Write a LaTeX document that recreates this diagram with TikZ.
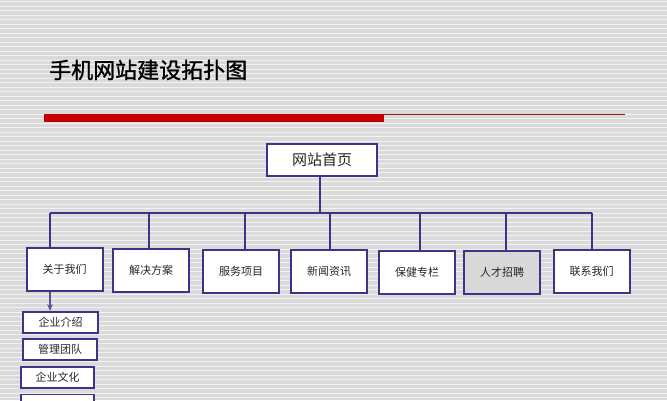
\documentclass[tikz,border=0pt]{standalone}
\usepackage{fontspec}
\usetikzlibrary{arrows.meta}
\newfontfamily\cjk{Noto Sans CJK SC}
\newfontfamily\cjkt[FakeBold=1.2]{Noto Sans CJK SC}
\definecolor{bgg}{HTML}{DADADA}
\definecolor{bgl}{HTML}{F2F2F2}
\definecolor{navy}{HTML}{3B3488}
\definecolor{arrowc}{HTML}{5E4F98}
\definecolor{barred}{HTML}{C40000}
\definecolor{thinred}{HTML}{A31515}
\definecolor{boxgray}{HTML}{D8D8D8}
\begin{document}
\begin{tikzpicture}[x=1pt,y=-1pt,
  mainbox/.style={draw=navy,line width=2pt,fill=white,minimum width=76pt,minimum height=43pt,inner sep=0pt,font=\cjk\fontsize{11}{13}\selectfont,text=black!85},
  subbox/.style={draw=navy,line width=1.8pt,fill=white,minimum width=74pt,minimum height=21pt,inner sep=0pt,font=\cjk\fontsize{11}{13}\selectfont,text=black!85},
  conn/.style={draw=navy,line width=1.8pt},
  arr/.style={draw=arrowc,line width=1.2pt,-{Stealth[length=7pt,width=5.5pt]}}]
\useasboundingbox (0,0) rectangle (667,400);
\clip (0,0) rectangle (667,400);
% background
\fill[bgg] (0,0) rectangle (667,400);
\foreach \i in {0,...,89} {
  \fill[bgl] (0,{\i*4.5+1}) rectangle (667,{\i*4.5+2.2});
}
% title
\node[anchor=west,inner sep=0pt,font=\cjkt\fontsize{22}{24}\selectfont] (title) at (49,70) {手机网站建设拓扑图};
% red bar
\fill[barred] (44,114) rectangle (384,122);
\draw[thinred,line width=1.2pt] (384,114.6) -- (625,114.6);
% top box
\node[mainbox,minimum width=110pt,minimum height=32pt,font=\cjk\fontsize{15}{17}\selectfont] (home) at (322,160) {网站首页};
% row boxes
\node[mainbox] (n1) at (64.5,269) {关于我们};
\node[mainbox] (n2) at (151,270.5) {解决方案};
\node[mainbox] (n3) at (241,271.5) {服务项目};
\node[mainbox] (n4) at (329,271.5) {新闻资讯};
\node[mainbox] (n5) at (417,272) {保健专栏};
\node[mainbox,fill=boxgray] (n6) at (502,272.5) {人才招聘};
\node[mainbox] (n7) at (591.5,271) {联系我们};
% bus
\coordinate (b1) at (50,213);
\coordinate (b2) at (149,213);
\coordinate (b3) at (245,213);
\coordinate (b4) at (330,213);
\coordinate (b5) at (420,213);
\coordinate (b6) at (506,213);
\coordinate (b7) at (592,213);
\coordinate (bh) at (320,213);
\draw[conn] (home.south -| bh) -- (bh);
\draw[conn] (b1) -- (b7);
\draw[conn] (b1) -- (b1 |- n1.north);
\draw[conn] (b2) -- (b2 |- n2.north);
\draw[conn] (b3) -- (b3 |- n3.north);
\draw[conn] (b4) -- (b4 |- n4.north);
\draw[conn] (b5) -- (b5 |- n5.north);
\draw[conn] (b6) -- (b6 |- n6.north);
\draw[conn] (b7) -- (b7 |- n7.north);
% sub boxes
\node[subbox,minimum width=75pt] (s1) at (60.5,322.5) {企业介绍};
\node[subbox] (s2) at (60,349.5) {管理团队};
\node[subbox,minimum width=73pt] (s3) at (57.5,377.5) {企业文化};
\node[subbox,minimum width=73pt,anchor=north] (s4) at (57.5,393.5) {};
\draw[arr] (b1 |- n1.south) -- (b1 |- s1.north);
\end{tikzpicture}
\end{document}
